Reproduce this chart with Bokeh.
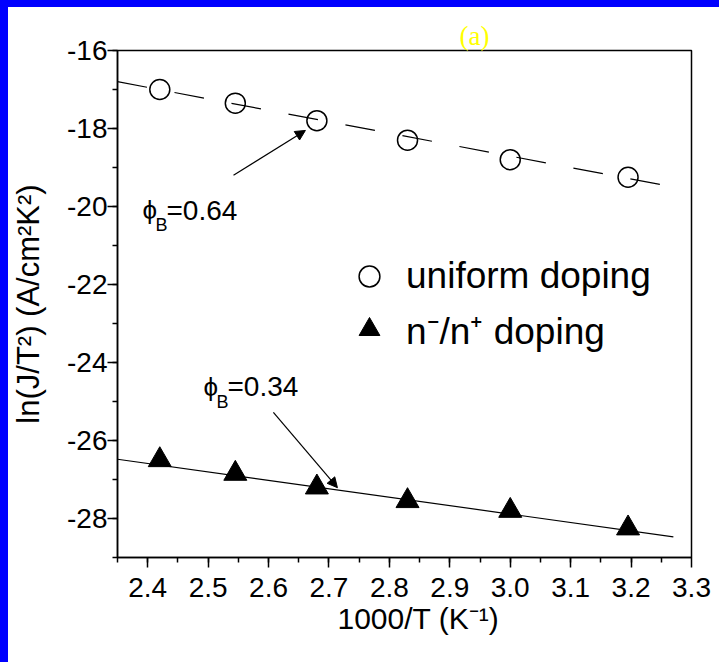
from bokeh.plotting import figure
from bokeh.models import (FixedTicker, PrintfTickFormatter, Range1d, Arrow, NormalHead,
                          Label, Legend, LegendItem, Title)
from bokeh.embed import file_html
from bokeh.resources import INLINE

# ---- data ----
x_inv_t = [2.42, 2.545, 2.68, 2.83, 3.0, 3.195]
y_uniform = [-17.0, -17.35, -17.8, -18.3, -18.8, -19.25]
y_nn = [-26.5, -26.85, -27.2, -27.55, -27.8, -28.25]
fit_x = [2.35, 3.27]
fit_uniform = [-16.8, -19.5]
fit_nn = [-26.48, -28.47]
x_ticks = [2.4, 2.5, 2.6, 2.7, 2.8, 2.9, 3.0, 3.1, 3.2, 3.3]
x_minor = [2.35 + 0.05 * i for i in range(20)]
y_ticks = [-28, -26, -24, -22, -20, -18, -16]
y_minor = list(range(-29, -15))
series_labels = ["uniform doping", "n\u207b/n\u207a doping"]
x_title = "1000/T (K\u207b\u00b9)"
y_title = "ln(J/T\u00b2) (A/cm\u00b2K\u00b2)"

FONT = "Liberation Sans"

page_bg = ("linear-gradient(to right, #0000ff 0px, #0000ff 8px, rgba(0,0,0,0) 8px), "
           "linear-gradient(to bottom, #0000ff 0px, #0000ff 7px, #ffffff 7px)")

p = figure(width=719, height=662, output_backend="svg", toolbar_location=None,
           x_range=Range1d(2.35, 3.3), y_range=Range1d(-29, -16),
           min_border_left=117, min_border_right=28, min_border_top=50, min_border_bottom=105,
           background_fill_color="white", border_fill_alpha=0,
           styles={"background": page_bg})
p.grid.visible = False
p.outline_line_color = "black"
p.outline_line_width = 1.5

for ax in (p.xaxis[0], p.yaxis[0]):
    ax.axis_line_width = 1.5
    ax.major_tick_line_width = 1.5
    ax.minor_tick_line_width = 1.5
    ax.major_tick_out = 10
    ax.major_tick_in = 0
    ax.minor_tick_out = 5
    ax.minor_tick_in = 0
    ax.major_label_text_font = FONT
    ax.major_label_text_font_size = "28px"
    ax.major_label_text_color = "black"
    ax.axis_label_text_font = FONT
    ax.axis_label_text_font_style = "normal"
    ax.axis_label_text_color = "black"

p.xaxis.ticker = FixedTicker(ticks=x_ticks, minor_ticks=x_minor)
p.xaxis.formatter = PrintfTickFormatter(format="%.1f")
p.xaxis.major_label_standoff = 10

p.yaxis.ticker = FixedTicker(ticks=y_ticks, minor_ticks=y_minor)
p.yaxis.formatter = PrintfTickFormatter(format="%d")
p.yaxis.major_label_standoff = 0
p.yaxis.axis_label = y_title
p.yaxis.axis_label_text_font_size = "31px"
p.yaxis.axis_label_standoff = 18

p.add_layout(Title(text=x_title, align="left", offset=220, standoff=0,
                   text_font=FONT, text_font_size="30px", text_font_style="normal",
                   text_color="black"), "below")

p.line(fit_x, fit_uniform, line_color="black", line_width=1.2, line_dash="30 28")
p.line(fit_x, fit_nn, line_color="black", line_width=1.2)

r_u = p.scatter(x_inv_t, y_uniform, marker="circle", size=20, fill_color=None,
                line_color="black", line_width=1.5)
r_n = p.scatter(x_inv_t, y_nn, marker="triangle", size=23, fill_color="black",
                line_color="black")

legend = Legend(items=[LegendItem(label=series_labels[0], renderers=[r_u]),
                       LegendItem(label=series_labels[1], renderers=[r_n])],
                location=(226, 202), glyph_width=52, glyph_height=52, label_standoff=11,
                spacing=1, padding=0, margin=0, border_line_alpha=0,
                background_fill_alpha=0, label_text_font=FONT,
                label_text_font_size="37px", label_text_color="black")
p.add_layout(legend)

p.add_layout(Arrow(x_start=2.542, y_start=-19.2, x_end=2.661, y_end=-18.05,
                   line_color="black", line_width=1.2,
                   end=NormalHead(size=10, fill_color="black", line_color="black")))
p.add_layout(Arrow(x_start=2.608, y_start=-25.28, x_end=2.714, y_end=-27.21,
                   line_color="black", line_width=1.2,
                   end=NormalHead(size=10, fill_color="black", line_color="black")))

def phi_label(x, y, val):
    common = dict(x=x, y=y, text_font=FONT, text_color="black", text_baseline="middle",
                  text_align="left")
    p.add_layout(Label(text="\u03d5", text_font_size="26px", x_offset=0, y_offset=0, **common))
    p.add_layout(Label(text="B", text_font_size="18px", x_offset=13, y_offset=-15, **common))
    p.add_layout(Label(text="=" + val, text_font_size="28px", x_offset=24, y_offset=0, **common))

phi_label(2.3914, -20.1, "0.64")
phi_label(2.4923, -24.62, "0.34")

p.add_layout(Title(text="(a)", align="left", offset=342, standoff=0,
                   text_font="Liberation Serif", text_font_size="27px",
                   text_font_style="normal", text_color="#ffff00"), "above")

open("out.html", "w").write(file_html(p, INLINE))
